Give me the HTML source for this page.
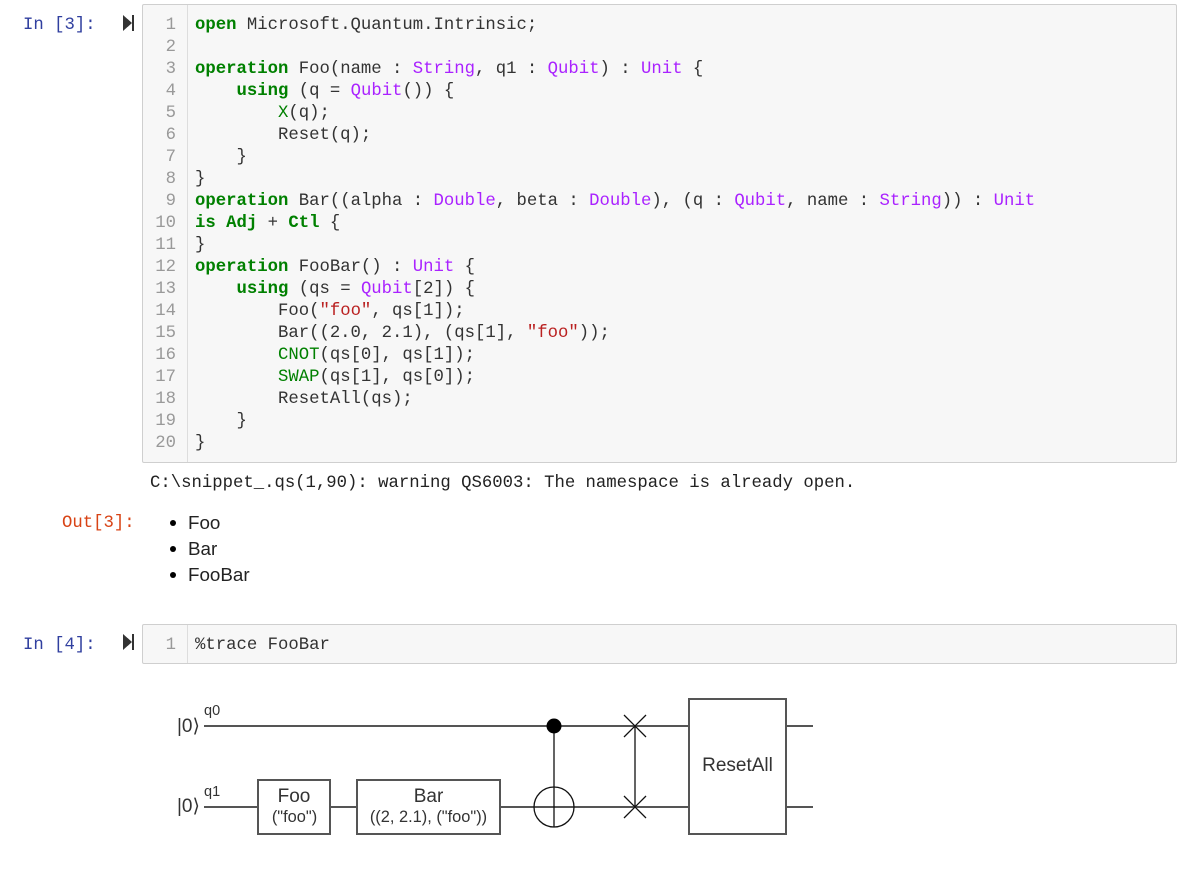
<!DOCTYPE html>
<html><head><meta charset="utf-8"><style>
html,body{margin:0;padding:0;background:#fff;width:1195px;height:877px;overflow:hidden}
body{position:relative;font-family:"Liberation Mono",monospace;font-size:17.3px;color:#333}
.box{position:absolute;left:142px;width:1035px;background:#f7f7f7;border:1px solid #cfcfcf;border-radius:2px;box-sizing:border-box}
.gut{position:absolute;left:187px;width:1px;background:#ddd}
.c,.n,.p{position:absolute;white-space:pre;line-height:22px;height:22px}
.c{left:195px;margin-top:1px}
.n{left:142px;width:34px;text-align:right;color:#999;margin-top:1px}
.p{color:#303f9f;margin-top:1px}
.k{color:#008000;font-weight:bold}.t{color:#aa22ff}.f{color:#008000}.s{color:#ba2121}
.li{position:absolute;left:188px;font-family:"Liberation Sans",sans-serif;font-size:18.8px;line-height:26px;color:#222}
.d{position:absolute;left:170px;width:6px;height:6px;border-radius:50%;background:#000}
svg{position:absolute;left:0;top:0}
svg text{font-family:"Liberation Sans",sans-serif;fill:#333}
</style></head><body>
<div class="p" style="left:23px;top:14px">In [3]:</div>
<div class="box" style="top:4px;height:459px"></div><div class="gut" style="top:5px;height:457px"></div>
<div class="n" style="top:14px">1</div><div class="c" style="top:14px"><span class="k">open</span> Microsoft.Quantum.Intrinsic;</div>
<div class="n" style="top:36px">2</div>
<div class="n" style="top:58px">3</div><div class="c" style="top:58px"><span class="k">operation</span> Foo(name : <span class="t">String</span>, q1 : <span class="t">Qubit</span>) : <span class="t">Unit</span> {</div>
<div class="n" style="top:80px">4</div><div class="c" style="top:80px">    <span class="k">using</span> (q = <span class="t">Qubit</span>()) {</div>
<div class="n" style="top:102px">5</div><div class="c" style="top:102px">        <span class="f">X</span>(q);</div>
<div class="n" style="top:124px">6</div><div class="c" style="top:124px">        Reset(q);</div>
<div class="n" style="top:146px">7</div><div class="c" style="top:146px">    }</div>
<div class="n" style="top:168px">8</div><div class="c" style="top:168px">}</div>
<div class="n" style="top:190px">9</div><div class="c" style="top:190px"><span class="k">operation</span> Bar((alpha : <span class="t">Double</span>, beta : <span class="t">Double</span>), (q : <span class="t">Qubit</span>, name : <span class="t">String</span>)) : <span class="t">Unit</span></div>
<div class="n" style="top:212px">10</div><div class="c" style="top:212px"><span class="k">is Adj</span> + <span class="k">Ctl</span> {</div>
<div class="n" style="top:234px">11</div><div class="c" style="top:234px">}</div>
<div class="n" style="top:256px">12</div><div class="c" style="top:256px"><span class="k">operation</span> FooBar() : <span class="t">Unit</span> {</div>
<div class="n" style="top:278px">13</div><div class="c" style="top:278px">    <span class="k">using</span> (qs = <span class="t">Qubit</span>[2]) {</div>
<div class="n" style="top:300px">14</div><div class="c" style="top:300px">        Foo(<span class="s">"foo"</span>, qs[1]);</div>
<div class="n" style="top:322px">15</div><div class="c" style="top:322px">        Bar((2.0, 2.1), (qs[1], <span class="s">"foo"</span>));</div>
<div class="n" style="top:344px">16</div><div class="c" style="top:344px">        <span class="f">CNOT</span>(qs[0], qs[1]);</div>
<div class="n" style="top:366px">17</div><div class="c" style="top:366px">        <span class="f">SWAP</span>(qs[1], qs[0]);</div>
<div class="n" style="top:388px">18</div><div class="c" style="top:388px">        ResetAll(qs);</div>
<div class="n" style="top:410px">19</div><div class="c" style="top:410px">    }</div>
<div class="n" style="top:432px">20</div><div class="c" style="top:432px">}</div>
<div class="c" style="left:150px;top:472px;color:#222">C:\snippet_.qs(1,90): warning QS6003: The namespace is already open.</div>
<div class="p" style="left:62px;top:512px;color:#d84315">Out[3]:</div>
<div class="d" style="top:520px;left:170px"></div><div class="li" style="top:510px">Foo</div>
<div class="d" style="top:546px;left:170px"></div><div class="li" style="top:536px">Bar</div>
<div class="d" style="top:572px;left:170px"></div><div class="li" style="top:562px">FooBar</div>
<div class="p" style="left:23px;top:634px">In [4]:</div>
<div class="box" style="top:624px;height:40px"></div><div class="gut" style="top:625px;height:38px"></div>
<div class="n" style="top:634px">1</div><div class="c" style="top:634px">%trace FooBar</div>
<svg width="1195" height="877" viewBox="0 0 1195 877">
<g fill="#333"><path d="M123 15 L132 23 L123 31Z"/><rect x="132" y="15" width="2" height="16"/><path d="M123 634 L132 642 L123 650Z"/><rect x="132" y="634" width="2" height="16"/></g>
<g stroke="#555" stroke-width="2" fill="none">
<path d="M204 726H689M204 807H258M330 807H357M500 807H689M786 726H813M786 807H813"/>
<rect x="258" y="780" width="72" height="54" fill="#fff"/>
<rect x="357" y="780" width="143" height="54" fill="#fff"/>
<rect x="689" y="699" width="97" height="135" fill="#fff"/>
</g>
<g stroke="#111" stroke-width="1.300" fill="none">
<path d="M554 726V827"/><circle cx="554" cy="807" r="20"/>
<path d="M635 726V807M624 715L646 737M646 715L624 737M624 796L646 818M646 796L624 818"/>
</g>
<circle cx="554" cy="726" r="7.500" fill="#000"/>
<g text-anchor="middle">
<text x="294" y="802" font-size="19">Foo</text>
<text x="294.500" y="822" font-size="16.400">("foo")</text>
<text x="428.500" y="802" font-size="19">Bar</text>
<text x="428.500" y="822" font-size="16.400">((2, 2.1), ("foo"))</text>
<text x="737.500" y="771" font-size="19">ResetAll</text>
</g>
<text x="177" y="732" font-size="19">|0⟩</text>
<text x="177" y="812" font-size="19">|0⟩</text>
<text x="204" y="715" font-size="14.500">q0</text>
<text x="204" y="796" font-size="14.500">q1</text>
</svg>
</body></html>
